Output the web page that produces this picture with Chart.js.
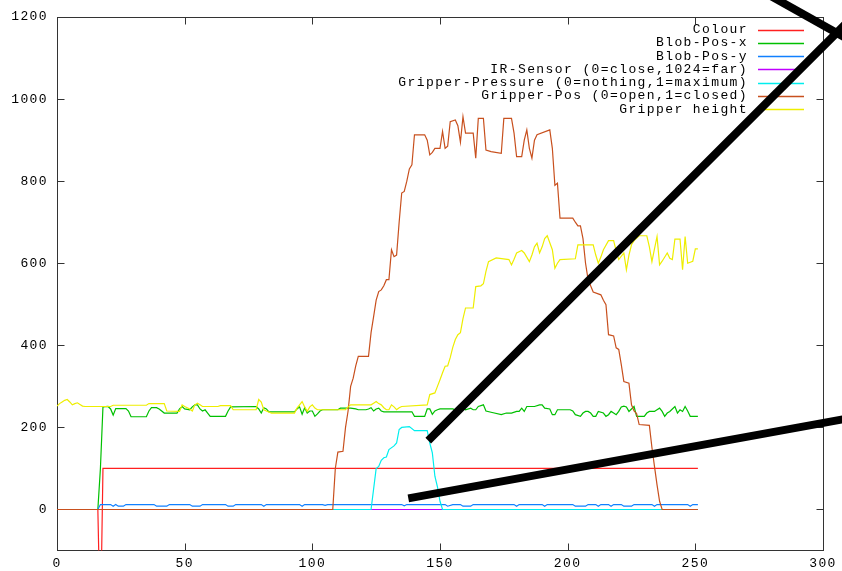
<!DOCTYPE html>
<html>
<head>
<meta charset="utf-8">
<script src="https://cdn.jsdelivr.net/npm/chart.js@4.4.1/dist/chart.umd.min.js"></script>
<style>
  html, body { margin: 0; padding: 0; background: #fff; }
</style>
</head>
<body>
<canvas id="myChart" width="842" height="571"></canvas>
<script>
// tick labels
const xTicks = [0, 50, 100, 150, 200, 250, 300];
const yTicks = [0, 200, 400, 600, 800, 1000, 1200];

// series names, in key order
const seriesNames = [
    'Colour',
    'Blob-Pos-x',
    'Blob-Pos-y',
    'IR-Sensor (0=close,1024=far)',
    'Gripper-Pressure (0=nothing,1=maximum)',
    'Gripper-Pos (0=open,1=closed)',
    'Gripper height'
];
const seriesColours = ['#ff2020', '#00c000', '#1080ff', '#c000ff', '#00eeee', '#c8501e', '#eeee00'];

// [time, value] readings
const colour = [[0, 0], [16, 0], [17, -300], [18, 100], [251, 100]];

const blobPosX = [[0, 0], [16, 0], [17, 100], [18, 250], [20, 251], [21, 245], [22, 230], [23, 246], [27, 246], [28, 240],
    [29, 226], [35, 226], [36, 240], [37, 248], [39, 248], [40, 245], [41, 240], [42, 235], [47, 235], [48, 245], [49, 251],
    [50, 245], [52, 243], [53, 250], [54, 255], [55, 255], [56, 245], [57, 240], [58, 243], [59, 235], [60, 227], [66, 227],
    [67, 240], [68, 250], [78, 251], [79, 245], [80, 235], [81, 248], [82, 245], [83, 238], [93, 238], [94, 245], [95, 250],
    [96, 232], [97, 248], [98, 235], [99, 240], [100, 240], [101, 227], [102, 233], [103, 240], [104, 243], [110, 243],
    [111, 247], [115, 247], [117, 245], [118, 243], [121, 243], [122, 245], [123, 248], [124, 240], [125, 245], [126, 247],
    [127, 240], [128, 238], [139, 238], [140, 227], [144, 227], [145, 245], [146, 245], [147, 232], [148, 240], [149, 243],
    [150, 245], [155, 245], [156, 243], [158, 245], [159, 247], [160, 243], [162, 247], [163, 243], [164, 243], [165, 251],
    [167, 255], [168, 240], [170, 237], [174, 231], [176, 235], [178, 235], [180, 239], [181, 239], [182, 247], [183, 239],
    [184, 251], [187, 251], [189, 255], [190, 255], [191, 247], [193, 245], [194, 231], [195, 231], [196, 243], [201, 243],
    [202, 240], [203, 231], [205, 227], [206, 235], [207, 239], [208, 239], [209, 235], [210, 227], [211, 227], [212, 239],
    [214, 235], [215, 227], [216, 231], [217, 239], [218, 235], [219, 231], [220, 239], [221, 250], [222, 252], [223, 250],
    [224, 239], [225, 245], [226, 251], [227, 227], [230, 227], [231, 235], [232, 239], [234, 239], [235, 243], [236, 247],
    [237, 239], [238, 227], [239, 235], [240, 239], [241, 245], [242, 251], [243, 235], [244, 243], [245, 239], [246, 251],
    [247, 240], [248, 227], [251, 227]];

const blobPosY = [[0, 0], [16, 0], [17, 12], [21, 12], [22, 8], [23, 12], [24, 8], [26, 8], [27, 12], [38, 12], [39, 8],
    [43, 8], [44, 12], [52, 12], [53, 8], [56, 8], [57, 12], [66, 12], [67, 8], [69, 8], [70, 12], [80, 12], [81, 8],
    [82, 12], [95, 12], [96, 8], [97, 12], [104, 12], [105, 10], [106, 12], [135, 12], [136, 9], [137, 12], [152, 12],
    [153, 8], [155, 12], [158, 12], [159, 8], [162, 8], [163, 12], [179, 12], [180, 8], [181, 12], [190, 12], [191, 8],
    [192, 12], [202, 12], [203, 8], [207, 8], [208, 12], [211, 12], [212, 8], [213, 12], [216, 12], [217, 8], [218, 12],
    [221, 12], [222, 8], [225, 8], [226, 12], [233, 12], [234, 8], [235, 12], [247, 12], [248, 8], [249, 12], [251, 12]];

const irSensor = [[0, 0], [251, 0]];

const gripperPressure = [[0, 0], [123, 0], [124, 50], [125, 100], [126, 105], [127, 120], [128, 126], [129, 128],
    [130, 146], [132, 155], [133, 162], [134, 195], [135, 200], [138, 202], [140, 192], [145, 192], [146, 162],
    [147, 138], [148, 81], [149, 55], [150, 20], [151, 0], [251, 0]];

const gripperPos = [[0, 0], [108, 0], [109, 100], [110, 140], [112, 142], [113, 200], [114, 240], [115, 300], [116, 320],
    [117, 350], [118, 373], [122, 373], [123, 431], [124, 470], [125, 510], [126, 531], [127, 535], [128, 545], [129, 560],
    [130, 560], [131, 633], [132, 616], [133, 620], [134, 700], [135, 771], [136, 775], [137, 800], [138, 830], [139, 840],
    [140, 913], [144, 913], [145, 900], [146, 864], [147, 870], [148, 880], [150, 880], [151, 921], [152, 880], [153, 885],
    [154, 945], [156, 949], [157, 935], [158, 895], [159, 957], [160, 917], [163, 917], [164, 856], [165, 953], [167, 953],
    [168, 876], [170, 872], [174, 868], [175, 953], [178, 953], [179, 917], [180, 860], [182, 860], [183, 900], [184, 925],
    [185, 880], [186, 856], [187, 900], [188, 913], [193, 925], [194, 880], [195, 790], [196, 795], [197, 710], [202, 710],
    [203, 700], [204, 691], [205, 691], [206, 660], [207, 600], [208, 560], [210, 530], [213, 523], [214, 510], [215, 499],
    [216, 426], [218, 423], [219, 394], [220, 390], [221, 353], [222, 312], [224, 308], [225, 255], [226, 240], [227, 234],
    [228, 207], [232, 205], [233, 151], [234, 105], [235, 60], [236, 20], [237, 0], [251, 0]];

const gripperHeight = [[0, 252], [1, 258], [2, 262], [3, 266], [4, 268], [5, 262], [6, 255], [7, 258], [8, 260], [9, 256],
    [10, 252], [11, 251], [21, 251], [22, 254], [35, 254], [36, 258], [42, 258], [43, 240], [48, 239], [49, 255], [50, 251],
    [52, 245], [53, 240], [54, 255], [55, 259], [56, 255], [57, 251], [63, 251], [64, 253], [68, 253], [69, 243], [78, 243],
    [79, 268], [80, 262], [81, 243], [82, 240], [84, 235], [93, 235], [94, 247], [95, 255], [96, 263], [97, 250], [98, 239],
    [99, 250], [100, 255], [101, 247], [102, 243], [113, 243], [114, 250], [115, 255], [123, 255], [124, 259], [125, 263],
    [126, 258], [127, 255], [128, 248], [129, 243], [130, 243], [131, 255], [132, 250], [133, 243], [134, 248], [135, 251],
    [145, 255], [146, 280], [148, 284], [149, 300], [150, 316], [151, 333], [152, 349], [153, 350], [154, 370], [155, 395],
    [156, 414], [157, 426], [158, 431], [159, 465], [160, 491], [163, 491], [164, 543], [166, 545], [167, 550], [168, 580],
    [169, 604], [172, 613], [177, 609], [178, 596], [179, 610], [180, 625], [182, 631], [183, 625], [185, 604], [186, 620],
    [187, 640], [188, 649], [189, 625], [190, 640], [191, 660], [192, 667], [193, 650], [194, 633], [195, 588], [196, 600],
    [197, 609], [203, 611], [204, 645], [210, 645], [211, 620], [212, 600], [213, 615], [214, 633], [216, 655], [218, 655],
    [219, 630], [220, 609], [222, 625], [223, 584], [224, 620], [225, 645], [226, 655], [228, 667], [231, 667], [232, 640],
    [233, 604], [234, 635], [235, 665], [236, 596], [237, 605], [239, 625], [240, 612], [241, 609], [242, 659], [244, 659],
    [245, 584], [246, 665], [247, 600], [249, 605], [250, 635], [251, 635]];

// the thick black strokes drawn over the plot, in axis units
const strokes = [
    [[145.4, 168], [310.6, 1194]],
    [[137.6, 27], [310.6, 223]],
    [[279.3, 1252], [310.6, 1143]]
];

const seriesData = [colour, blobPosX, blobPosY, irSensor, gripperPressure, gripperPos, gripperHeight];
const tickFont = { family: '"Liberation Mono", "DejaVu Sans Mono", monospace', size: 13 };

// gnuplot-ish frame with inward ticks on all four sides, plus the key
const frameAndKey = {
    id: 'frameAndKey',
    beforeDraw(chart) {
        chart.ctx.letterSpacing = '1.4px';
    },
    beforeDatasetsDraw(chart) {
        const ctx = chart.ctx;
        const a = chart.chartArea;
        const x = chart.scales.x;
        const y = chart.scales.y;
        const top = Math.round(a.top) + 0.5;
        const bottom = Math.round(a.bottom) - 0.5;
        const left = Math.round(a.left) + 0.5;
        const right = Math.round(a.right) + 0.5;
        ctx.save();
        ctx.strokeStyle = '#333';
        ctx.lineWidth = 1;
        ctx.strokeRect(left, top, right - left, bottom - top);
        ctx.beginPath();
        xTicks.forEach(v => {
            const px = Math.round(x.getPixelForValue(v)) + 0.5;
            ctx.moveTo(px, bottom); ctx.lineTo(px, bottom - 7);
            ctx.moveTo(px, top); ctx.lineTo(px, top + 7);
        });
        yTicks.forEach(v => {
            const py = Math.floor(y.getPixelForValue(v)) + 0.5;
            ctx.moveTo(left, py); ctx.lineTo(left + 7, py);
            ctx.moveTo(right, py); ctx.lineTo(right - 7, py);
        });
        ctx.stroke();

        // key, right aligned text with a sample line to its right
        ctx.font = '13px "Liberation Mono", "DejaVu Sans Mono", monospace';
        ctx.textAlign = 'right';
        ctx.textBaseline = 'middle';
        ctx.fillStyle = '#000';
        seriesNames.forEach((name, i) => {
            const ty = a.top + 12.5 + i * 13.3;
            ctx.fillText(name, a.right - 75, ty);
            ctx.strokeStyle = seriesColours[i];
            ctx.lineWidth = 1.5;
            ctx.beginPath();
            ctx.moveTo(a.right - 65, Math.round(ty) + 0.5);
            ctx.lineTo(a.right - 19, Math.round(ty) + 0.5);
            ctx.stroke();
        });
        ctx.restore();
    }
};

function toPoints(list) {
    return list.map(p => ({ x: p[0], y: p[1] }));
}

const datasets = seriesNames.map((name, i) => ({
    label: name,
    data: toPoints(seriesData[i]),
    borderColor: seriesColours[i],
    borderWidth: 1.2,
    pointRadius: 0,
    tension: 0,
    fill: false,
    order: seriesNames.length - i // later series sit on top, like gnuplot
}));

strokes.forEach((s, i) => {
    datasets.push({
        label: 'stroke' + i,
        data: toPoints(s),
        borderColor: '#000',
        borderWidth: 8,
        borderCapStyle: 'butt',
        pointRadius: 0,
        fill: false,
        clip: false,
        order: 0
    });
});

new Chart(document.getElementById('myChart').getContext('2d'), {
    type: 'line',
    data: { datasets: datasets },
    options: {
        responsive: false,
        animation: false,
        devicePixelRatio: 1,
        layout: { padding: { top: 17, right: 19, left: 0, bottom: 0 } },
        plugins: {
            legend: { display: false },
            tooltip: { enabled: false }
        },
        scales: {
            x: {
                type: 'linear',
                min: 0,
                max: 300,
                grid: { display: false, drawTicks: false },
                border: { display: false },
                ticks: { font: tickFont, color: '#000', maxRotation: 0, autoSkip: false, padding: 5 },
                afterBuildTicks: s => { s.ticks = xTicks.map(v => ({ value: v })); },
                afterFit: s => { s.height = 20.46; }
            },
            y: {
                type: 'linear',
                min: -100,
                max: 1200,
                grid: { display: false, drawTicks: false },
                border: { display: false },
                ticks: { font: tickFont, color: '#000', autoSkip: false, padding: 9, callback: v => String(v) },
                afterBuildTicks: s => { s.ticks = yTicks.map(v => ({ value: v })); },
                afterFit: s => { s.width = 57; }
            }
        }
    },
    plugins: [frameAndKey]
});
</script>
</body>
</html>
